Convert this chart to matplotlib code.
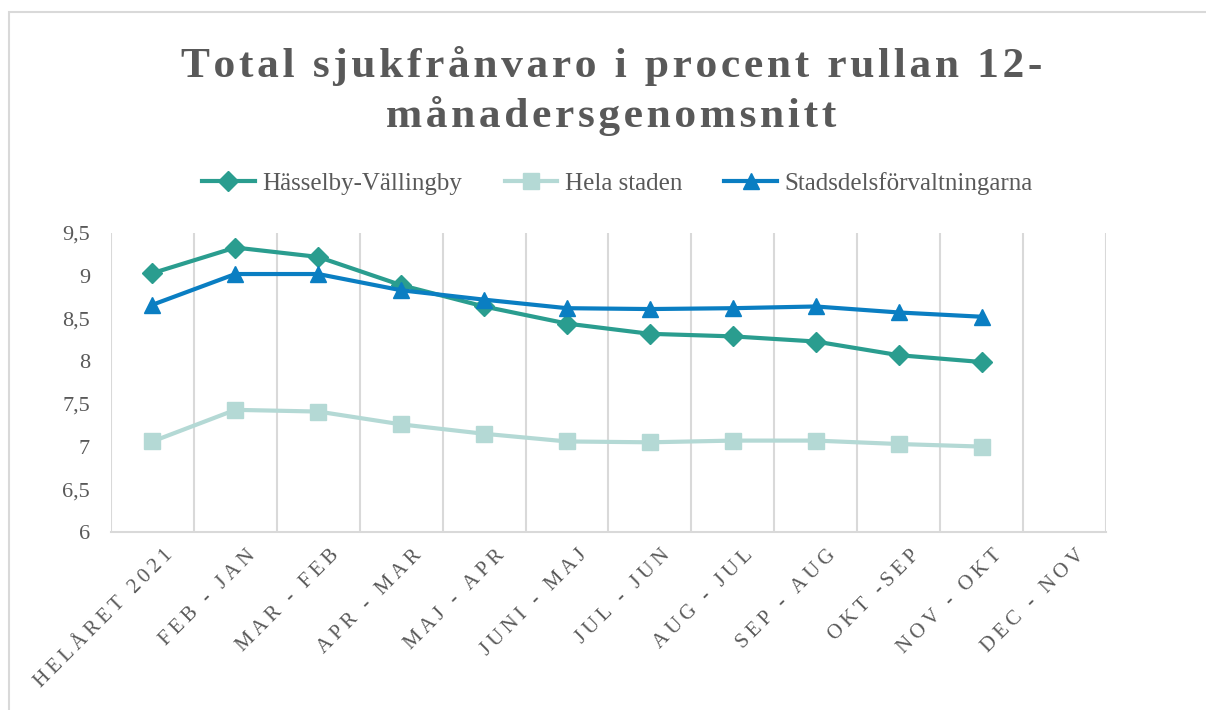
import numpy as np
import matplotlib.pyplot as plt
from matplotlib.patches import Rectangle
from matplotlib.ticker import FuncFormatter

# sjukfrånvaro, rullande 12-månadersgenomsnitt (%)
perioder = ['HELÅRET 2021', 'FEB - JAN', 'MAR - FEB', 'APR - MAR', 'MAJ - APR',
            'JUNI - MAJ', 'JUL - JUN', 'AUG - JUL', 'SEP - AUG', 'OKT -SEP',
            'NOV - OKT', 'DEC - NOV']
hasselby = [9.03, 9.33, 9.22, 8.89, 8.64, 8.44, 8.32, 8.29, 8.23, 8.07, 7.99, np.nan]
hela_staden = [7.06, 7.43, 7.41, 7.26, 7.15, 7.06, 7.05, 7.07, 7.07, 7.03, 7.00, np.nan]
stadsdel = [8.66, 9.02, 9.02, 8.83, 8.72, 8.62, 8.61, 8.62, 8.64, 8.57, 8.52, np.nan]

grey = '#595959'
plt.rcParams['font.family'] = ['Liberation Serif', 'DejaVu Serif']


def spaced(s, sep):
    # spärrad text
    return sep.join(s)


fig = plt.figure(figsize=(12.06, 7.10), dpi=100)
ax = fig.add_axes([0.092, 0.2507, 0.825, 0.4211])

# ram runt diagrammet
fig.patches.append(Rectangle((0.0075, -0.1), 1.2, 0.1 + 1 - 12 / 710, transform=fig.transFigure,
                             fill=False, edgecolor='#D9D9D9', lw=1.5))

x = np.arange(len(perioder))
ax.plot(x, hasselby, color='#2A9D8F', lw=3, marker='D', ms=10, label='Hässelby-Vällingby')
ax.plot(x, hela_staden, color='#B4D9D5', lw=3, marker='s', ms=12, label='Hela staden')
ax.plot(x, stadsdel, color='#0A7EC2', lw=3, marker='^', ms=12, label='Stadsdelsförvaltningarna')

ax.set_xlim(-0.5, len(perioder) - 0.5)
ax.set_ylim(6, 9.5)
ax.set_yticks(np.arange(6, 9.51, 0.5))
ax.yaxis.set_major_formatter(FuncFormatter(lambda v, p: ('%g' % v).replace('.', ',')))

# vertikala stödlinjer mellan kategorierna
for b in np.arange(-0.5, len(perioder), 1):
    ax.axvline(b, color='#D9D9D9', lw=1.5, zorder=0)

for s in ['top', 'right', 'left']:
    ax.spines[s].set_visible(False)
ax.spines['bottom'].set_color('#D9D9D9')
ax.spines['bottom'].set_linewidth(1.5)

# etiketterna slutar lite till höger om kategorins mitt
ax.set_xticks(x + 0.13)
ax.set_xticklabels([spaced(p, '\u2009') for p in perioder], rotation=45, ha='right', va='top',
                   rotation_mode='anchor', fontsize=15, color=grey)
ax.tick_params(axis='x', length=0, pad=10)
ax.tick_params(axis='y', length=0, labelsize=16, labelcolor=grey, pad=15)

rubrik = spaced('Total sjukfrånvaro i procent rullan 12-', '\u200a') + '\n' + \
    spaced('månadersgenomsnitt', '\u200a')
fig.text(0.507, 0.872, rubrik, ha='center', va='center', fontsize=31.3, fontweight='bold',
         color=grey, linespacing=1.32)

fig.legend(loc='center', bbox_to_anchor=(0.512, 0.742), ncol=3, frameon=False,
           fontsize=18, handlelength=2.1, columnspacing=1.7, handletextpad=0.3,
           labelcolor=grey)

fig.savefig('out.png', dpi=100)
